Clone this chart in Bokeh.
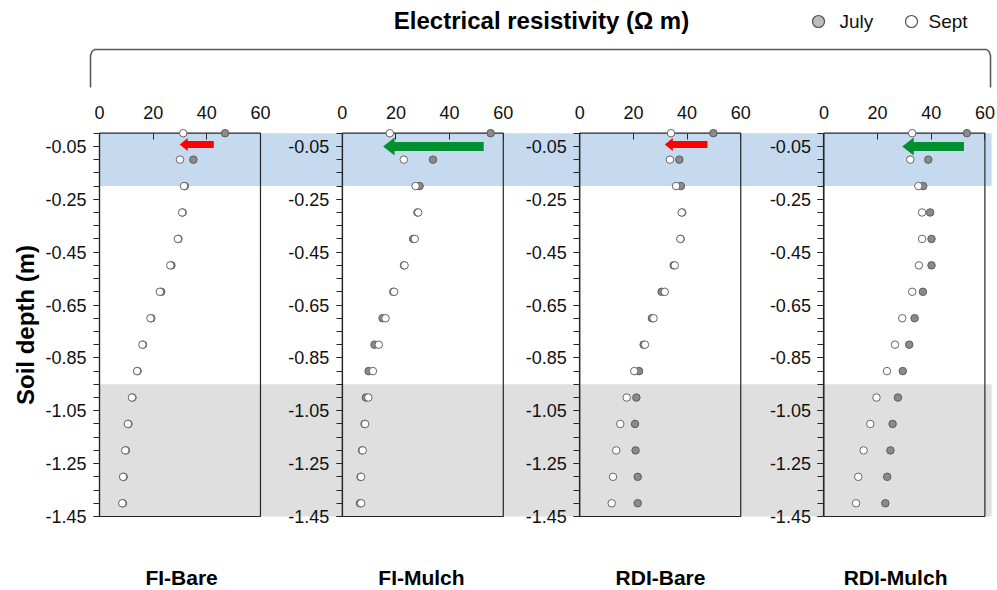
from bokeh.plotting import figure
from bokeh.models import Range1d, LinearAxis, FixedTicker, NumeralTickFormatter, CustomJSTickFormatter
from bokeh.core.properties import value
from bokeh.embed import file_html
from bokeh.resources import INLINE

# ---------------- data ----------------
panels = ["FI-Bare", "FI-Mulch", "RDI-Bare", "RDI-Mulch"]
depth = [0.0, -0.1, -0.2, -0.3, -0.4, -0.5, -0.6, -0.7, -0.8, -0.9, -1.0, -1.1, -1.2, -1.3, -1.4]

july_fi_bare = [46.8, 35.0, 31.8, 31.0, 29.4, 26.8, 23.0, 19.3, 16.2, 14.2, 12.3, 10.8, 9.8, 9.0, 8.7]
sept_fi_bare = [31.2, 30.0, 31.5, 30.8, 29.2, 26.4, 22.5, 19.0, 16.0, 14.0, 12.1, 10.6, 9.6, 8.8, 8.5]

july_fi_mulch = [55.3, 33.8, 28.8, 28.0, 26.4, 23.0, 19.0, 15.0, 12.0, 9.8, 8.8, 8.3, 7.4, 6.8, 6.6]
sept_fi_mulch = [17.7, 22.9, 27.3, 28.3, 27.0, 23.2, 19.3, 16.1, 13.6, 11.4, 9.7, 8.5, 7.6, 7.0, 7.0]

july_rdi_bare = [49.8, 37.1, 37.7, 38.2, 37.6, 35.0, 30.5, 26.9, 23.8, 22.1, 21.1, 20.6, 20.8, 21.6, 21.6]
sept_rdi_bare = [34.0, 33.6, 35.9, 38.0, 37.5, 35.4, 31.7, 27.5, 24.3, 20.3, 17.5, 15.1, 13.6, 12.4, 11.9]

july_rdi_mulch = [53.3, 38.9, 37.0, 39.6, 40.1, 40.1, 36.9, 33.8, 31.8, 29.4, 27.6, 25.6, 24.8, 23.6, 22.9]
sept_rdi_mulch = [32.9, 32.2, 35.2, 36.6, 36.6, 35.4, 32.9, 29.2, 26.5, 23.5, 19.6, 17.3, 14.8, 12.8, 12.0]

july = [july_fi_bare, july_fi_mulch, july_rdi_bare, july_rdi_mulch]
sept = [sept_fi_bare, sept_fi_mulch, sept_rdi_bare, sept_rdi_mulch]

arrow_tail = [42.6, 52.7, 47.6, 52.2]
arrow_tip = [29.9, 15.2, 31.7, 29.2]
arrow_depth = [-0.043, -0.05, -0.043, -0.05]
arrow_color = ["#ff0000", "#00902f", "#ff0000", "#00902f"]

x_ticks = [0, 20, 40, 60]
y_ticks = [-0.05, -0.25, -0.45, -0.65, -0.85, -1.05, -1.25, -1.45]
y_minor = [round(-0.05 * i, 2) for i in range(30)]
wet_zone = (0.0, -0.2)
deep_zone = (-0.95, -1.45)
x_max = 60
depth_min = -1.45

# ---------------- layout constants ----------------
W, H = 997, 590
X0, X1 = -36.9, 334.7
Y0, Y1 = -1.73, 0.502
XU = (X1 - X0) / W   # data units per px (x)
YU = (Y1 - Y0) / H   # data units per px (y)
offsets = [0, 90.5, 179, 270]
name_dx = [30.6, 29.5, 30.1, 26.7]
FONT = "Liberation Sans"

p = figure(width=W, height=H, x_range=Range1d(X0, X1), y_range=Range1d(Y0, Y1),
           x_axis_location=None, y_axis_location=None, tools="",
           toolbar_location=None, output_backend="svg", min_border=0)
p.outline_line_color = None
p.xgrid.visible = False
p.ygrid.visible = False
p.background_fill_color = "white"
p.border_fill_color = "white"

# bands
band_left = offsets[0]
band_right = offsets[-1] + x_max + 2.5
p.quad(left=band_left, right=band_right, top=wet_zone[0], bottom=wet_zone[1],
       fill_color="#c5daee", line_color=None)
p.quad(left=band_left, right=band_right, top=deep_zone[0], bottom=deep_zone[1],
       fill_color="#dfdfdf", line_color=None)

# panel frames
p.quad(left=offsets, right=[o + x_max for o in offsets], top=[0] * 4, bottom=[depth_min] * 4,
       fill_color=None, line_color="#262626", line_width=1.2)

# points
for i, o in enumerate(offsets):
    p.scatter([o + v for v in july[i]], depth, size=7.5, fill_color="#8a8a8a",
              line_color="#5c5c5c", line_width=1)
    p.scatter([o + v for v in sept[i]], depth, size=7.5, fill_color="white",
              line_color="#666666", line_width=1)

# arrows
xs_all, ys_all = [], []
for i, o in enumerate(offsets):
    red = arrow_color[i] == "#ff0000"
    sh = (3.5 if red else 4.5) * YU
    hh = (6.5 if red else 9.0) * YU
    hl = (8.0 if red else 11.5) * XU
    xt, xh, yc = o + arrow_tail[i], o + arrow_tip[i], arrow_depth[i]
    xs_all.append([xh, xh + hl, xh + hl, xt, xt, xh + hl, xh + hl])
    ys_all.append([yc, yc + hh, yc + sh, yc + sh, yc - sh, yc - sh, yc - hh])
p.patches(xs_all, ys_all, fill_color=arrow_color, line_color=None)

# y axes (one per panel)
for i, o in enumerate(offsets):
    ax = LinearAxis(fixed_location=o, bounds=(depth_min, 0),
                    ticker=FixedTicker(ticks=y_ticks, minor_ticks=y_minor),
                    formatter=NumeralTickFormatter(format="0.00"))
    ax.axis_line_color = "#262626"
    ax.axis_line_width = 1.2
    ax.major_tick_out = 6
    ax.major_tick_in = 0
    ax.minor_tick_out = 6
    ax.minor_tick_in = 0
    ax.major_tick_line_color = "#262626"
    ax.minor_tick_line_color = "#262626"
    ax.major_label_text_font = FONT
    ax.major_label_text_font_size = "18px"
    ax.major_label_text_color = "#111111"
    ax.major_label_standoff = 7
    if i == 0:
        ax.axis_label = "Soil depth (m)"
        ax.axis_label_text_font = FONT
        ax.axis_label_text_font_style = "bold"
        ax.axis_label_text_font_size = "24px"
        ax.axis_label_text_color = "#000000"
        ax.axis_label_standoff = 3
    p.add_layout(ax, "left")

# x axis on top of the panels
xt_all = [o + t for o in offsets for t in x_ticks]
xax = LinearAxis(fixed_location=0, ticker=FixedTicker(ticks=xt_all, minor_ticks=[]),
                 formatter=CustomJSTickFormatter(args=dict(offs=offsets), code="""
let base = offs[0];
for (const o of offs) { if (tick >= o - 0.001) base = o; }
return String(Math.round(tick - base));
"""))
xax.axis_line_color = None
xax.major_tick_in = 6
xax.major_tick_out = 0
xax.minor_tick_in = 0
xax.minor_tick_out = 0
xax.major_tick_line_color = "#262626"
xax.major_label_text_font = FONT
xax.major_label_text_font_size = "18px"
xax.major_label_text_color = "#111111"
xax.major_label_standoff = 14
p.add_layout(xax, "above")

# title
p.text(x=[(541 - 99) * XU], y=[Y1 - 20 * YU], text=["Electrical resistivity (\u03a9 m)"],
       text_font=value(FONT), text_font_style="bold", text_font_size="24px",
       text_align="center", text_baseline="middle", text_color="#000000")

# bracket
bx = [(90 - 99) * XU, (90 - 99) * XU, (91.5 - 99) * XU, (94 - 99) * XU,
      (986 - 99) * XU, (988.5 - 99) * XU, (990 - 99) * XU, (990 - 99) * XU]
by = [Y1 - 87 * YU, Y1 - 55 * YU, Y1 - 51 * YU, Y1 - 49 * YU,
      Y1 - 49 * YU, Y1 - 51 * YU, Y1 - 55 * YU, Y1 - 87 * YU]
p.line(bx, by, line_color="#5a5a5a", line_width=1.6)

# legend
ly = Y1 - 21 * YU
p.scatter([(818 - 99) * XU], [ly], size=12, fill_color="#bdbdbd", line_color="#505050", line_width=1.2)
p.scatter([(911 - 99) * XU], [ly], size=12, fill_color="white", line_color="#505050", line_width=1.2)
p.text(x=[(839 - 99) * XU, (928 - 99) * XU], y=[ly, ly], text=["July", "Sept"],
       text_font=value(FONT), text_font_size="19px", text_align="left",
       text_baseline="middle", text_color="#111111")

# panel names
name_x = [o + d for o, d in zip(offsets, name_dx)]
p.text(x=name_x, y=[Y1 - 577 * YU] * 4, text=panels, text_font=value(FONT),
       text_font_style="bold", text_font_size="21px", text_align="center",
       text_baseline="middle", text_color="#000000")

open("out.html", "w").write(file_html(p, INLINE))
